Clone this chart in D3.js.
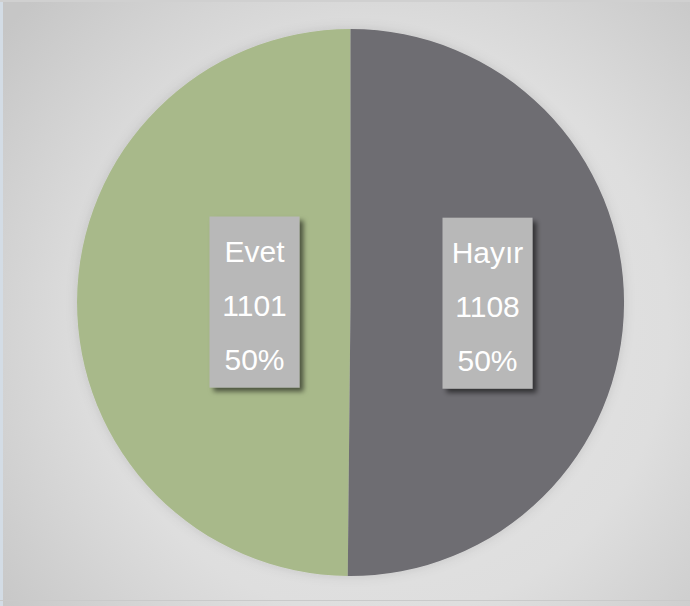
<!DOCTYPE html>
<html>
<head>
<meta charset="utf-8">
<script src="https://cdn.jsdelivr.net/npm/d3@7/dist/d3.min.js"></script>
<style>
  html, body { margin: 0; padding: 0; background: #d8d8d8; }
  svg { display: block; }
</style>
</head>
<body>
<svg id="chart" width="690" height="606"></svg>
<script>
// ---- data ----
const categories = ["Evet", "Hayır"];
const values = [1101, 1108];
const percentLabels = ["50%", "50%"];

// ---- layout / style ----
const W = 690, H = 606;
const cx = 350.5, cy = 302.5, R = 273.5;
const colors = ["#a8b98a", "#6e6d72"];
const labelRadius = [96, 137];
const boxW = 90, boxH = 171;

const svg = d3.select("#chart");
const defs = svg.append("defs");

const bg = defs.append("radialGradient").attr("id", "bg")
  .attr("gradientUnits", "userSpaceOnUse")
  .attr("cx", 380).attr("cy", 330).attr("r", 480);
bg.append("stop").attr("offset", "0").attr("stop-color", "#e6e6e6");
bg.append("stop").attr("offset", "0.6").attr("stop-color", "#dedede");
bg.append("stop").attr("offset", "1").attr("stop-color", "#c6c6c6");

const sh = defs.append("filter").attr("id", "boxShadow")
  .attr("x", "-20%").attr("y", "-20%").attr("width", "150%").attr("height", "150%");
sh.append("feDropShadow").attr("dx", 4).attr("dy", 4).attr("stdDeviation", 2.5)
  .attr("flood-color", "#000").attr("flood-opacity", 0.55);

const psh = defs.append("filter").attr("id", "pieShadow")
  .attr("x", "-10%").attr("y", "-10%").attr("width", "120%").attr("height", "120%");
psh.append("feDropShadow").attr("dx", 0).attr("dy", 0).attr("stdDeviation", 6)
  .attr("flood-color", "#000").attr("flood-opacity", 0.12);

// background
svg.append("rect").attr("x", 0).attr("y", 0).attr("width", W).attr("height", H)
  .attr("fill", "url(#bg)");
svg.append("rect").attr("x", 0).attr("y", 0).attr("width", 3).attr("height", H)
  .attr("fill", "#d3dce5");
svg.append("rect").attr("x", 0).attr("y", 0).attr("width", W).attr("height", 2)
  .attr("fill", "#d0d0d0");
svg.append("rect").attr("x", 0).attr("y", H - 6).attr("width", W).attr("height", 1)
  .attr("fill", "#cacaca");

// pie (counter-clockwise from 12 o'clock so Evet sits on the left)
const data = categories.map((c, i) => ({ name: c, value: values[i], pct: percentLabels[i], i }));
const pie = d3.pie().sort(null).value(d => d.value).startAngle(0).endAngle(-2 * Math.PI);
const arcs = pie(data);
const arc = d3.arc().innerRadius(0).outerRadius(R);

const g = svg.append("g").attr("transform", `translate(${cx},${cy})`);
g.append("g").attr("filter", "url(#pieShadow)")
  .selectAll("path").data(arcs).join("path")
  .attr("d", arc)
  .attr("fill", d => colors[d.data.i]);

// labels
const lab = g.selectAll("g.lab").data(arcs).join("g").attr("class", "lab")
  .attr("transform", d => {
    const a = (d.startAngle + d.endAngle) / 2;
    const r = labelRadius[d.data.i];
    return `translate(${r * Math.sin(a)},${-r * Math.cos(a)})`;
  });
lab.append("rect")
  .attr("x", -boxW / 2).attr("y", -boxH / 2)
  .attr("width", boxW).attr("height", boxH)
  .attr("fill", "#b8b8b8")
  .attr("filter", "url(#boxShadow)");
const lines = d => [d.data.name, d3.format("d")(d.data.value), d.data.pct];
lab.each(function(d) {
  const sel = d3.select(this);
  lines(d).forEach((t, k) => {
    sel.append("text")
      .attr("x", 0).attr("y", -40 + k * 54)
      .attr("text-anchor", "middle")
      .attr("font-family", "'Liberation Sans', Arial, sans-serif")
      .attr("font-size", 30)
      .attr("fill", "#ffffff")
      .text(t);
  });
});
</script>
</body>
</html>
